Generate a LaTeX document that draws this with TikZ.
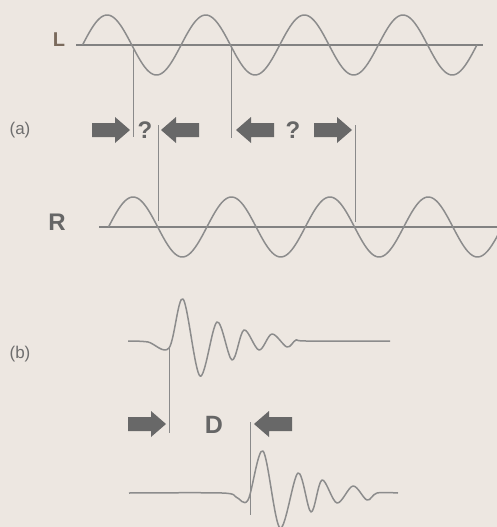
\documentclass[tikz,border=0pt]{standalone}
\usepackage{fontspec}
\setmainfont{Liberation Sans}
\begin{document}
\begin{tikzpicture}[x=1pt,y=-1pt,
  wave/.style={draw=wavecol,line width=1.5pt,line join=round},
  axisline/.style={draw=axiscol,line width=1.2pt},
  guide/.style={draw=guidecol,line width=0.8pt},
  lbl/.style={text=labelcol,font=\fontsize{17}{17}\selectfont,inner sep=0pt},
  big/.style={text=bigcol,font=\fontsize{24}{24}\selectfont\bfseries,inner sep=0pt},
  rarrow/.pic={\fill[arrowcol] (-38,-7) -- (-15,-7) -- (-15,-13) -- (0,0) -- (-15,13) -- (-15,7) -- (-38,7) -- cycle;}
]
\definecolor{bgcol}{HTML}{EDE7E1}
\definecolor{wavecol}{HTML}{8C8C8C}
\definecolor{axiscol}{HTML}{828282}
\definecolor{guidecol}{HTML}{8A8A8A}
\definecolor{labelcol}{HTML}{6E6E6E}
\definecolor{bigcol}{HTML}{666666}
\definecolor{lcol}{HTML}{7A6A5C}
\definecolor{arrowcol}{HTML}{686868}
\useasboundingbox (0,0) rectangle (497,527);
\fill[bgcol] (0,0) rectangle (497,527);
\clip (0,0) rectangle (497,527);

% (a) L wave
\node[big,text=lcol,font=\fontsize{20}{20}\selectfont\bfseries] (L) at (59,40) {L};
\draw[axisline] (76,45) -- (483,45);
\draw[wave] plot[domain=82.5:477,samples=240] (\x,{45-30*sin((\x-82.5)/98.6*360)});
\draw[guide] (133,50) -- (133,137);
\draw[guide] (231,45) -- (231,138);

% (a) arrows and question marks
\node[lbl] (a) at (20,130) {(a)};
\pic at (130,130) {rarrow};
\node[big] (q1) at (145,130) {?};
\pic[xscale=-1] at (161,130) {rarrow};
\pic[xscale=-1] at (236,130) {rarrow};
\node[big] (q2) at (293,130) {?};
\pic at (352,130) {rarrow};

% (a) R wave
\node[big] (R) at (57,222) {R};
\draw[axisline] (99,227) -- (497,227);
\draw[wave] plot[domain=108.5:500,samples=240] (\x,{227-30*sin((\x-108.5)/98.4*360)});
\draw[guide] (158,125) -- (158,221);
\draw[guide] (355,125) -- (355,222);

% (b)
\node[lbl] (b) at (20,354) {(b)};
\draw[wave] plot[smooth,tension=0.55] coordinates {(128,341) (148,342) (169,348) (183,299) (200,376) (217,322) (232,360) (244,330) (259,350) (272,334) (287,347) (296,340) (306,341) (390,341)};
\draw[guide] (169,348) -- (169,433);
\pic at (166,424) {rarrow};
\node[big,font=\fontsize{25}{25}\selectfont\bfseries] (D) at (214,425) {D};
\pic[xscale=-1] at (254,424) {rarrow};
\draw[guide] (250,422) -- (250,515);
\draw[wave] plot[smooth,tension=0.55] coordinates {(129,493) (222,493) (236,497) (248,500) (263,451) (280,528) (298,473) (311,512) (322,480) (337,503) (353,486) (367,500) (377,493) (398,493)};
\end{tikzpicture}
\end{document}
